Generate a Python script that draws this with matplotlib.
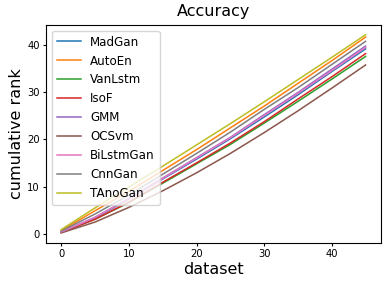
import matplotlib
matplotlib.use('Agg')
import matplotlib.pyplot as plt

# datasets sampled every 5
x = [0, 5, 10, 15, 20, 25, 30, 35, 40, 45]

names = ['MadGan', 'AutoEn', 'VanLstm', 'IsoF', 'GMM',
         'OCSvm', 'BiLstmGan', 'CnnGan', 'TAnoGan']

mad_gan = [0.3, 3.4, 7.3, 11.6, 15.8, 20.1, 24.7, 29.4, 34.3, 39.1]
auto_en = [0.7, 4.9, 9.0, 13.4, 17.8, 22.4, 27.0, 31.8, 36.6, 41.6]
van_lstm = [0.3, 3.1, 6.6, 10.7, 14.8, 18.9, 23.4, 28.0, 32.7, 37.5]
iso_f = [0.3, 3.1, 6.7, 10.9, 15.0, 19.2, 23.7, 28.5, 33.2, 38.1]
gmm = [0.4, 3.5, 7.5, 11.8, 16.1, 20.4, 25.2, 29.9, 34.8, 39.7]
oc_svm = [0.2, 2.5, 5.6, 9.1, 12.9, 17.0, 21.4, 26.0, 30.8, 35.7]
bilstm_gan = [0.4, 3.5, 7.4, 11.7, 16.0, 20.3, 25.0, 29.7, 34.5, 39.4]
cnn_gan = [0.6, 4.2, 8.2, 12.6, 17.0, 21.5, 26.3, 30.9, 35.8, 40.7]
tano_gan = [0.9, 5.5, 9.9, 14.3, 18.8, 23.3, 27.9, 32.6, 37.3, 42.1]

series = [mad_gan, auto_en, van_lstm, iso_f, gmm,
          oc_svm, bilstm_gan, cnn_gan, tano_gan]

fig = plt.figure(figsize=(3.87, 2.85), dpi=100)
ax = fig.add_axes([0.119, 0.148, 0.865, 0.765])

for name, vals in zip(names, series):
    ax.plot(x, vals, label=name, linewidth=1.1)

ax.set_title('Accuracy', fontsize=11.5)
ax.set_xlabel('dataset', fontsize=11.5, labelpad=2)
ax.set_ylabel('cumulative rank', fontsize=11.5, labelpad=2)
ax.tick_params(labelsize=7.2, length=2.5, pad=2)
ax.set_xticks([0, 10, 20, 30, 40])
ax.set_yticks([0, 10, 20, 30, 40])
ax.legend(loc='upper left', fontsize=8.6, handlelength=2.0)

fig.savefig('out.png', dpi=100)
